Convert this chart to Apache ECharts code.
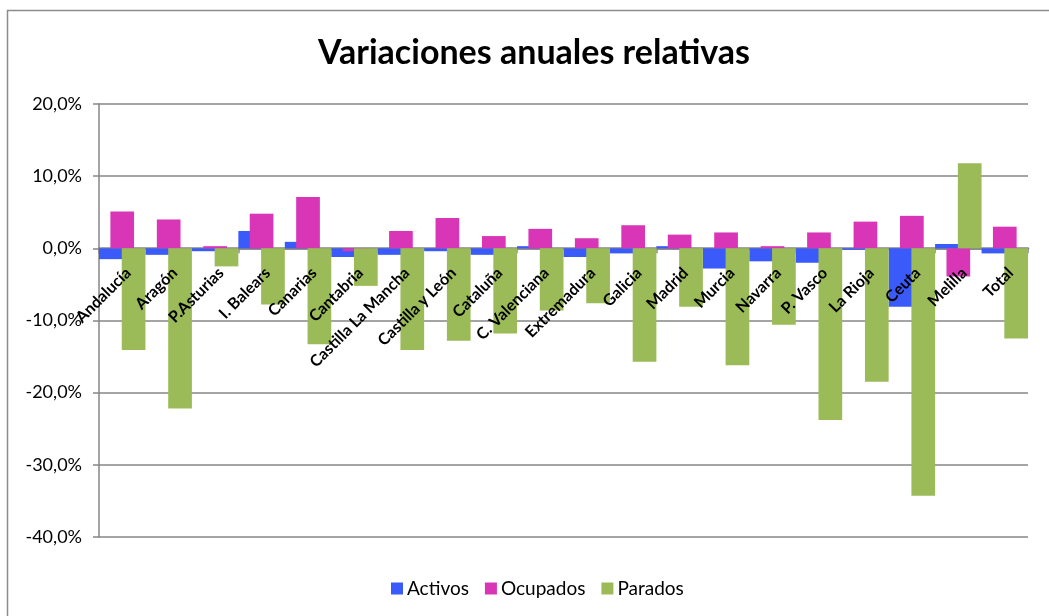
<!DOCTYPE html>
<html>
<head>
<meta charset="utf-8">
<script src="https://cdn.jsdelivr.net/npm/echarts@6/dist/echarts.min.js"></script>
<style>
    html, body { margin: 0; padding: 0; background: #fff; }
    #chart { width: 1049px; height: 616px; }
</style>
</head>
<body>
<div id="chart"></div>
<script>
    // datos (porcentajes)
    var regiones = ['Andalucía', 'Aragón', 'P.Asturias', 'I. Balears', 'Canarias', 'Cantabria',
        'Castilla La Mancha', 'Castilla y León', 'Cataluña', 'C. Valenciana', 'Extremadura',
        'Galicia', 'Madrid', 'Murcia', 'Navarra', 'P. Vasco', 'La Rioja', 'Ceuta', 'Melilla', 'Total'];
    var activos = [-1.5, -0.9, -0.4, 2.4, 0.9, -1.2, -0.9, -0.4, -0.9, 0.3, -1.2,
        -0.7, 0.3, -2.8, -1.8, -2.0, -0.2, -8.1, 0.6, -0.7];
    var ocupados = [5.1, 4.0, 0.3, 4.8, 7.1, -0.4, 2.4, 4.2, 1.7, 2.7, 1.4,
        3.2, 1.9, 2.2, 0.3, 2.2, 3.7, 4.5, -3.9, 3.0];
    var parados = [-14.1, -22.2, -2.5, -7.8, -13.3, -5.2, -14.1, -12.8, -11.8, -8.6, -7.6,
        -15.7, -8.1, -16.2, -10.6, -23.8, -18.5, -34.3, 11.8, -12.5];

    var chart = echarts.init(document.getElementById('chart'));

    // etiquetas de categoria pegadas a la linea del 0
    function etiquetaRegion(params, api) {
        var p = api.coord([api.value(0), 0]);
        return {
            type: 'text',
            x: p[0] + 6,
            y: p[1] + 22,
            rotation: Math.PI / 4,
            style: {
                text: regiones[params.dataIndex],
                textAlign: 'right',
                textVerticalAlign: 'middle',
                font: 'bold 16px Lato',
                fill: '#000'
            }
        };
    }

    var option = {
        animation: false,
        title: {
            text: 'Variaciones anuales relativas',
            left: 313,
            top: 31,
            textStyle: {
                fontFamily: 'Lato',
                fontWeight: 'bold',
                fontSize: 34,
                color: '#000'
            }
        },
        graphic: [{
            type: 'rect',
            shape: { x: 7.5, y: 10.5, width: 1100, height: 700 },
            style: { fill: 'none', stroke: '#8c8c8c', lineWidth: 1.5 },
            silent: true
        }],
        legend: {
            left: 386,
            top: 574,
            itemWidth: 12,
            itemHeight: 12,
            itemGap: 16,
            icon: 'rect',
            textStyle: { fontFamily: 'Lato', fontSize: 19, color: '#000', padding: [0, 0, 0, -1] },
            data: ['Activos', 'Ocupados', 'Parados']
        },
        grid: { left: 99, right: 21, top: 104, bottom: 79, outerBoundsMode: 'none', containLabel: false },
        xAxis: {
            type: 'category',
            data: regiones,
            axisLine: { onZero: true, lineStyle: { color: '#868686', width: 2.5 } },
            axisTick: { show: true, length: 5, lineStyle: { color: '#868686', width: 1.5 } },
            axisLabel: { show: false }
        },
        yAxis: {
            type: 'value',
            min: -40,
            max: 20,
            interval: 10,
            axisLine: { show: true, lineStyle: { color: '#868686', width: 1.5 } },
            axisTick: { show: true, length: 6, lineStyle: { color: '#868686', width: 1.5 } },
            splitLine: { lineStyle: { color: '#868686', width: 1.5 } },
            axisLabel: {
                margin: 17,
                fontFamily: 'Lato',
                fontSize: 18,
                color: '#000',
                formatter: function (v) {
                    return v.toFixed(1).replace('.', ',') + '%';
                }
            }
        },
        series: [
            {
                name: 'Activos',
                type: 'bar',
                data: activos,
                barGap: '-52%',
                barCategoryGap: '0%',
                itemStyle: { color: '#3a5afa' }
            },
            {
                name: 'Ocupados',
                type: 'bar',
                data: ocupados,
                barGap: '-52%',
                barCategoryGap: '0%',
                itemStyle: { color: '#d936b7' }
            },
            {
                name: 'Parados',
                type: 'bar',
                data: parados,
                barGap: '-52%',
                barCategoryGap: '0%',
                itemStyle: { color: '#9bbb59' }
            },
            {
                name: 'etiquetas',
                type: 'custom',
                renderItem: etiquetaRegion,
                data: regiones.map(function (r, i) { return [i, 0]; }),
                encode: { x: 0, y: 1 },
                z: 10,
                silent: true
            }
        ]
    };

    chart.setOption(option);
</script>
</body>
</html>
